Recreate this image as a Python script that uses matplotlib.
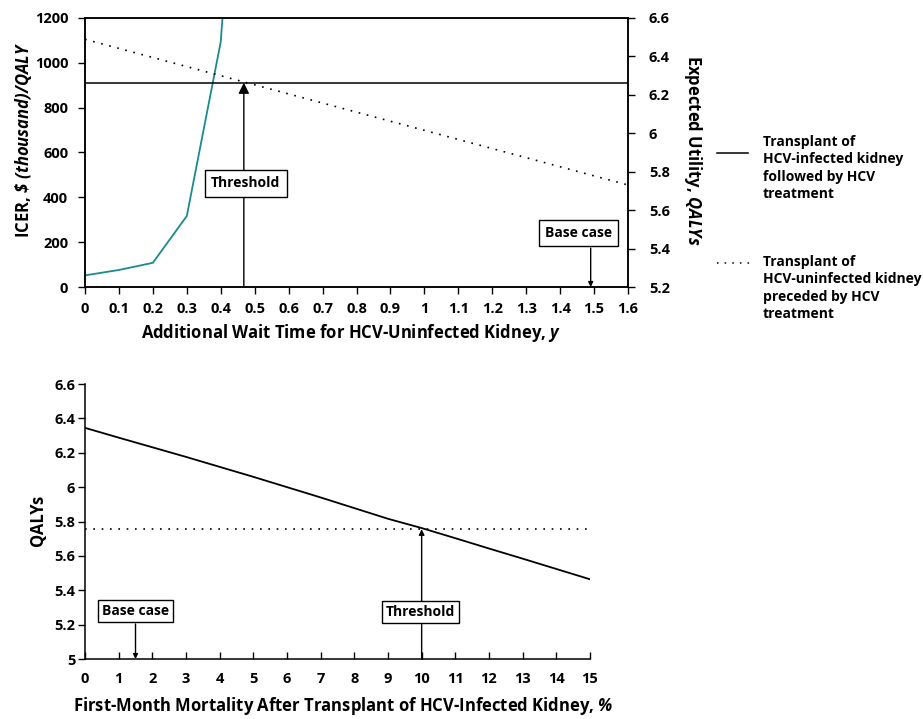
import matplotlib
matplotlib.use('Agg')
import matplotlib.pyplot as plt
from matplotlib.lines import Line2D

plt.rcParams['font.family'] = ['Open Sans', 'DejaVu Sans']
plt.rcParams['font.weight'] = 'bold'
plt.rcParams['axes.labelweight'] = 'bold'
plt.rcParams['mathtext.fontset'] = 'custom'
plt.rcParams['mathtext.it'] = 'Open Sans:italic'
plt.rcParams['mathtext.bfit'] = 'Open Sans:italic:bold'
plt.rcParams['mathtext.rm'] = 'Open Sans'

# top panel: additional wait time
wait = [0, 0.1, 0.2, 0.3, 0.4, 0.5]
icer = [52, 76, 108, 317, 1094, 3200]
wait_ends = [0, 1.6]
followed_eu = [6.263, 6.263]
preceded_eu = [6.489, 5.731]
wait_ticks = [0, 0.1, 0.2, 0.3, 0.4, 0.5, 0.6, 0.7, 0.8, 0.9, 1, 1.1, 1.2, 1.3, 1.4, 1.5, 1.6]
wait_labels = ['0', '0.1', '0.2', '0.3', '0.4', '0.5', '0.6', '0.7', '0.8', '0.9', '1',
               '1.1', '1.2', '1.3', '1.4', '1.5', '1.6']
icer_ticks = [0, 200, 400, 600, 800, 1000, 1200]
eu_ticks = [5.2, 5.4, 5.6, 5.8, 6, 6.2, 6.4, 6.6]
eu_labels = ['5.2', '5.4', '5.6', '5.8', '6', '6.2', '6.4', '6.6']
wait_threshold = 0.468
wait_base = 1.49

# bottom panel: first-month mortality
mortality = [0, 1, 2, 3, 4, 5, 6, 7, 8, 9, 10, 11, 12, 13, 14, 15]
qaly_followed = [6.345, 6.288, 6.232, 6.176, 6.118, 6.06, 6.0, 5.94, 5.878, 5.816,
                 5.762, 5.703, 5.643, 5.584, 5.524, 5.464]
mort_ends = [0, 15]
qaly_preceded = [5.755, 5.755]
qaly_ticks = [5, 5.2, 5.4, 5.6, 5.8, 6, 6.2, 6.4, 6.6]
qaly_labels = ['5', '5.2', '5.4', '5.6', '5.8', '6', '6.2', '6.4', '6.6']
mort_threshold = 10
mort_base = 1.5

teal = '#1a8a8f'
box = dict(boxstyle='square,pad=0.45', fc='white', ec='black', lw=1)

fig = plt.figure(figsize=(9.23, 7.19), dpi=100)

# ---- top chart
ax = fig.add_axes([0.0921, 0.6008, 0.5883, 0.3742])
ax2 = ax.twinx()
ax.plot(wait, icer, color=teal, lw=1.3)
ax.set_xlim(0, 1.6)
ax.set_ylim(0, 1200)
ax.set_xticks(wait_ticks, wait_labels)
ax.set_yticks(icer_ticks)
ax2.set_ylim(5.2, 6.6)
ax2.set_yticks(eu_ticks, eu_labels)
ax2.plot(wait_ends, followed_eu, color='black', lw=1.1)
ax2.plot(wait_ends, preceded_eu, color='black', lw=1.2, ls=(0, (1, 4)))

ax.tick_params(axis='both', direction='out', length=5, width=1, labelsize=10.5)
ax.tick_params(axis='x', pad=6)
ax.tick_params(axis='y', pad=7)
ax2.tick_params(axis='y', direction='out', length=5, width=1, labelsize=10.5, pad=10)
for a in (ax, ax2):
    for s in a.spines.values():
        s.set_linewidth(1.1)

ax.set_xlabel(r'Additional Wait Time for HCV-Uninfected Kidney, $\mathbfit{y}$',
              fontsize=12, va='center')
ax.xaxis.set_label_coords(0.49, -0.171)
ax.set_ylabel(r'ICER, $\mathbfit{\$\ (thousand)/QALY}$', fontsize=12, va='center')
ax.yaxis.set_label_coords(-0.114, 0.546)
ax2.set_ylabel(r'Expected Utility, $\mathbfit{QALYs}$', fontsize=12,
               rotation=270, va='center')
ax2.yaxis.set_label_coords(1.12, 0.509)

ax2.annotate('', xy=(wait_threshold, followed_eu[0]), xytext=(wait_threshold, 5.2),
             arrowprops=dict(arrowstyle='-|>', color='black', lw=1,
                             mutation_scale=16, shrinkA=0, shrinkB=0))
ax2.text(0.474, 5.739, 'Threshold', fontsize=10, ha='center', va='center',
         bbox=box, zorder=5)
ax2.annotate('', xy=(wait_base, 5.2), xytext=(wait_base, 5.403),
             arrowprops=dict(arrowstyle='-|>', color='black', lw=1,
                             mutation_scale=7, shrinkA=0, shrinkB=0))
ax2.text(1.454, 5.481, 'Base case', fontsize=10, ha='center', va='center',
         bbox=box, zorder=5)

# legend drawn at the right of the top chart
fig.add_artist(Line2D([717 / 923, 748 / 923], [1 - 153 / 719, 1 - 153 / 719],
                      color='black', lw=1.1))
fig.add_artist(Line2D([717 / 923, 753 / 923], [1 - 263 / 719, 1 - 263 / 719],
                      color='black', lw=1.1, ls=(0, (1, 4))))
fig.text(763 / 923, 1 - 135 / 719,
         'Transplant of\nHCV-infected kidney\nfollowed by HCV\ntreatment',
         fontsize=10, va='top', ha='left', linespacing=1.3)
fig.text(763 / 923, 1 - 255 / 719,
         'Transplant of\nHCV-uninfected kidney\npreceded by HCV\ntreatment',
         fontsize=10, va='top', ha='left', linespacing=1.3)

# ---- bottom chart
bx = fig.add_axes([0.0921, 0.0834, 0.5471, 0.3825])
bx.plot(mortality, qaly_followed, color='black', lw=1.3)
bx.plot(mort_ends, qaly_preceded, color='black', lw=1.2, ls=(0, (1, 4)))
bx.set_xlim(0, 15)
bx.set_ylim(5, 6.6)
bx.set_xticks(mortality)
bx.set_yticks(qaly_ticks, qaly_labels)
bx.spines['top'].set_visible(False)
bx.spines['right'].set_visible(False)
for s in bx.spines.values():
    s.set_linewidth(1.1)
bx.tick_params(axis='x', direction='in', length=5, width=1, labelsize=10.5, pad=9)
bx.tick_params(axis='y', direction='out', length=5, width=1, labelsize=10.5, pad=2)
bx.set_xlabel(r'First-Month Mortality After Transplant of HCV-Infected Kidney, $\mathbfit{\%}$',
              fontsize=12, va='center')
bx.xaxis.set_label_coords(0.511, -0.171)
bx.set_ylabel('QALYs', fontsize=12, va='center')
bx.yaxis.set_label_coords(-0.093, 0.505)

bx.annotate('', xy=(mort_threshold, qaly_preceded[0]), xytext=(mort_threshold, 5.0),
            arrowprops=dict(arrowstyle='-|>', color='black', lw=1,
                            mutation_scale=8, shrinkA=0, shrinkB=0))
bx.text(9.97, 5.273, 'Threshold', fontsize=10, ha='center', va='center',
        bbox=dict(boxstyle='square,pad=0.3', fc='white', ec='black', lw=1), zorder=5)
bx.annotate('', xy=(mort_base, 5.0), xytext=(mort_base, 5.204),
            arrowprops=dict(arrowstyle='-|>', color='black', lw=1,
                            mutation_scale=7, shrinkA=0, shrinkB=0))
bx.text(1.5, 5.279, 'Base case', fontsize=10, ha='center', va='center',
        bbox=dict(boxstyle='square,pad=0.3', fc='white', ec='black', lw=1), zorder=5)

fig.savefig('out.png', dpi=100)
